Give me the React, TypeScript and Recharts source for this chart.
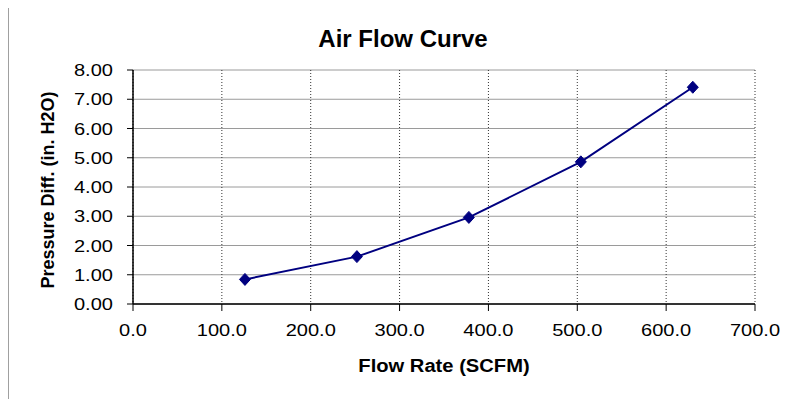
import { CartesianGrid, Line, LineChart, XAxis, YAxis } from "recharts";

const flowRates = [126, 252, 378, 504, 630];
const pressureDiffs = [0.84, 1.62, 2.96, 4.86, 7.41];
const xTicks = [0, 100, 200, 300, 400, 500, 600, 700];
const yTicks = [0, 1, 2, 3, 4, 5, 6, 7, 8];

const data = flowRates.map((flow, i) => ({ flow, pressure: pressureDiffs[i] }));

const FONT = '"Liberation Sans", Arial, Helvetica, sans-serif';

const Diamond = (props: any) => {
  const { cx, cy } = props;
  if (cx == null || cy == null) return null;
  return (
    <polygon
      points={`${cx},${cy - 6} ${cx + 5.5},${cy} ${cx},${cy + 6} ${cx - 5.5},${cy}`}
      fill="#000080"
      stroke="#000080"
    />
  );
};

// tick text a little wider than tall, as in the source picture
const XTick = (props: any) => {
  const { x, y, payload } = props;
  return (
    <text
      transform={`translate(${x},${y}) scale(1.18,1)`}
      x={0}
      y={12.5}
      textAnchor="middle"
      fill="#000"
      fontSize={17}
      fontFamily={FONT}
    >
      {Number(payload.value).toFixed(1)}
    </text>
  );
};

const YTick = (props: any) => {
  const { x, y, payload } = props;
  return (
    <text
      transform={`translate(${x},${y}) scale(1.18,1)`}
      x={0}
      y={6}
      textAnchor="end"
      fill="#000"
      fontSize={17}
      fontFamily={FONT}
    >
      {Number(payload.value).toFixed(2)}
    </text>
  );
};

export default function App() {
  return (
    <div
      style={{
        position: "relative",
        margin: -8,
        width: 791,
        height: 407,
        overflow: "hidden",
        background: "#fff",
        fontFamily: FONT,
      }}
    >
      <div
        style={{
          position: "absolute",
          left: 8,
          top: 5,
          width: 900,
          height: 500,
          borderLeft: "1.5px solid #a0a0a0",
          borderTop: "1.5px solid #a0a0a0",
        }}
      />
      <div
        style={{
          position: "absolute",
          left: 0,
          top: 26,
          width: 806,
          textAlign: "center",
          fontWeight: "bold",
          fontSize: 24,
          lineHeight: "26px",
        }}
      >
        Air Flow Curve
      </div>
      <div
        style={{
          position: "absolute",
          left: 133,
          top: 356,
          width: 622,
          textAlign: "center",
          fontWeight: "bold",
          fontSize: 18,
          lineHeight: "20px",
          transform: "scaleX(1.12)",
        }}
      >
        Flow Rate (SCFM)
      </div>
      <div
        style={{
          position: "absolute",
          left: 48,
          top: 190,
          transform: "translate(-50%, -50%) rotate(-90deg)",
          whiteSpace: "nowrap",
          fontWeight: "bold",
          fontSize: 18,
          lineHeight: "20px",
        }}
      >
        Pressure Diff. (in. H2O)
      </div>
      <div style={{ position: "absolute", left: 0, top: 0 }}>
        <LineChart
          width={791}
          height={407}
          data={data}
          margin={{ top: 70, right: 36, bottom: 28, left: 0 }}
        >
          <CartesianGrid horizontal={true} vertical={false} stroke="#9a9a9a" strokeWidth={1} />
          <CartesianGrid
            horizontal={false}
            vertical={true}
            stroke="#333"
            strokeWidth={1}
            strokeDasharray="1 2"
          />
          <XAxis
            dataKey="flow"
            type="number"
            domain={[0, 700]}
            ticks={xTicks}
            height={75}
            tickSize={7}
            tickMargin={12}
            axisLine={{ stroke: "#000", strokeWidth: 1.5 }}
            tickLine={{ stroke: "#000", strokeWidth: 1 }}
            tick={<XTick />}
            interval={0}
          />
          <YAxis
            dataKey="pressure"
            type="number"
            domain={[0, 8]}
            ticks={yTicks}
            width={133}
            tickSize={6}
            tickMargin={14}
            axisLine={{ stroke: "#000", strokeWidth: 1.5 }}
            tickLine={{ stroke: "#000", strokeWidth: 1 }}
            tick={<YTick />}
            interval={0}
          />
          <Line
            type="linear"
            dataKey="pressure"
            stroke="#000080"
            strokeWidth={2}
            dot={<Diamond />}
            activeDot={false}
            isAnimationActive={false}
          />
        </LineChart>
      </div>
    </div>
  );
}
